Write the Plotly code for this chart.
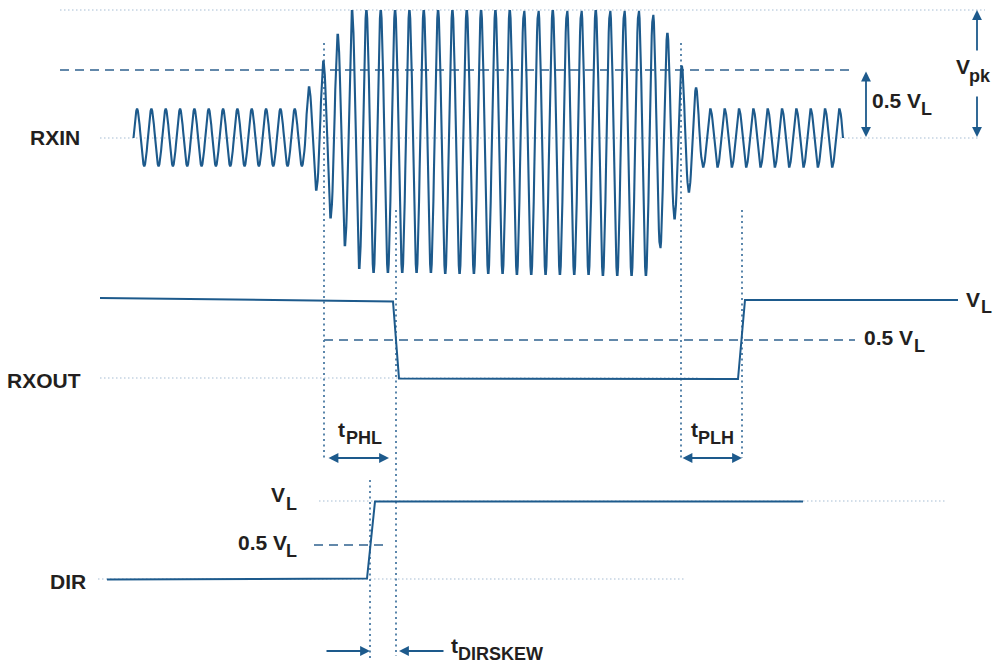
import numpy as np
import plotly.graph_objects as go

# ---------------- data (diagram units: px-like, y grows downward) ----------------
RXIN_BASE = 138
WAVE_START, WAVE_END = 133.5, 843.0
# amplitude of each positive half-cycle (peaks), left to right
PEAK_AMPS = [29] * 12 + [51, 77, 104, 128] + [128] * 20 + [124, 105, 72, 50] + [29] * 10
# amplitude of each negative half-cycle (troughs), left to right
TROUGH_AMPS = ([28] * 12 + [52, 80, 108, 131] +
               [135, 135, 135, 135, 135, 136, 136, 136, 136, 136,
                137, 137, 137, 137, 137, 137, 138, 138, 138, 138] +
               [111, 81, 54] + [29] * 10)

RXOUT_X = [100, 393, 399, 738, 745, 958]
RXOUT_Y = [298, 301.5, 378.5, 379, 300, 300]

DIR_X = [107, 367, 375, 803]
DIR_Y = [579.5, 578.5, 501.5, 501.5]

# vertical timing markers: x, y_top, y_bottom
VMARK_X = [324, 396, 681, 742, 370]
VMARK_Y0 = [43, 210, 43, 210, 480]
VMARK_Y1 = [460, 656, 458, 458, 660]

# horizontal reference levels: y, x_start, x_end, style
HREF_Y = [10, 70, 138, 340, 378, 501, 545, 579]
HREF_X0 = [60, 60, 100, 324, 100, 319, 314, 98]
HREF_X1 = [985, 855, 978, 855, 700, 945, 383, 685]
HREF_KIND = ["dot", "dash", "dot", "dash", "dot", "dot", "dash", "dot"]

# arrows: x0, y0, x1, y1 (head at x1,y1), both-ended?
ARROWS = [
    (977, 52, 977, 10, False),
    (977, 95, 977, 137, False),
    (866, 70, 866, 137, True),
    (327, 458, 389, 458, True),
    (681, 458, 742, 458, True),
    (325, 651, 370, 651, False),
    (445, 651, 399, 651, False),
]

# text labels: text, x, y, size, anchor
LABELS = [
    ("RXIN", 82, 137, 21, "right"),
    ("RXOUT", 83, 380, 21, "right"),
    ("DIR", 88, 581, 21, "right"),
    ("0.5 V", 870, 100.5, 21, "left"), ("L", 919, 108.5, 18, "left"),
    ("V", 954, 66.5, 21, "left"), ("pk", 967, 76, 18, "left"),
    ("V", 964, 299.5, 21, "left"), ("L", 979, 307, 18, "left"),
    ("0.5 V", 862, 337.5, 21, "left"), ("L", 912, 346, 18, "left"),
    ("t", 336, 429, 21, "left"), ("PHL", 344, 437.5, 18, "left"),
    ("t", 689, 429, 21, "left"), ("PLH", 696, 437.5, 18, "left"),
    ("V", 269, 494.5, 21, "left"), ("L", 284, 504, 18, "left"),
    ("0.5 V", 236, 542.5, 21, "left"), ("L", 284, 550.5, 18, "left"),
    ("t", 449, 645, 21, "left"), ("DIRSKEW", 456, 653.5, 18, "left"),
]

# ---------------- styling ----------------
LINE = "#1d5a8c"
DASH_C = "#2f628f"
VDOT_C = "#4a7aa3"
HDOT_C = "#a6bdd3"
TEXT_C = "#231f20"
FONT = "Liberation Sans, Arial, sans-serif"

# ---------------- build waveform from amplitude lists ----------------
n_half = len(PEAK_AMPS) + len(TROUGH_AMPS)
half = (WAVE_END - WAVE_START) / n_half
wx, wy = [], []
for k in range(n_half):
    amp = PEAK_AMPS[k // 2] if k % 2 == 0 else TROUGH_AMPS[k // 2]
    sgn = 1 if k % 2 == 0 else -1
    t = np.linspace(0, 1, 14)
    xs = WAVE_START + (k + t) * half
    ys = RXIN_BASE - sgn * amp * np.sin(np.pi * t)
    if k > 0:
        xs, ys = xs[1:], ys[1:]
    wx.extend(xs.tolist())
    wy.extend(ys.tolist())

fig = go.Figure()

shapes = []
for y, x0, x1, kind in zip(HREF_Y, HREF_X0, HREF_X1, HREF_KIND):
    if kind == "dot":
        ln = dict(color=HDOT_C, width=1.2, dash="1.5px,2.5px")
    else:
        ln = dict(color=DASH_C, width=1.6, dash="9px,6px")
    shapes.append(dict(type="line", xref="x", yref="y", x0=x0, x1=x1, y0=y, y1=y,
                       line=ln, layer="below"))
for x, y0, y1 in zip(VMARK_X, VMARK_Y0, VMARK_Y1):
    shapes.append(dict(type="line", xref="x", yref="y", x0=x, x1=x, y0=y0, y1=y1,
                       line=dict(color=VDOT_C, width=1.8, dash="2px,3.5px"), layer="below"))

fig.add_trace(go.Scatter(x=wx, y=wy, mode="lines", line=dict(color=LINE, width=2.1),
                         hoverinfo="skip", showlegend=False))
fig.add_trace(go.Scatter(x=RXOUT_X, y=RXOUT_Y, mode="lines", line=dict(color=LINE, width=2),
                         hoverinfo="skip", showlegend=False))
fig.add_trace(go.Scatter(x=DIR_X, y=DIR_Y, mode="lines", line=dict(color=LINE, width=2),
                         hoverinfo="skip", showlegend=False))

annotations = []
for x0, y0, x1, y1, both in ARROWS:
    annotations.append(dict(x=x1, y=y1, ax=x0, ay=y0, xref="x", yref="y", axref="x", ayref="y",
                            text="", showarrow=True, arrowhead=2, arrowsize=1.1, arrowwidth=1.8,
                            arrowcolor=LINE, arrowside="end+start" if both else "end",
                            standoff=0, startstandoff=0))
for txt, x, y, size, anc in LABELS:
    annotations.append(dict(x=x, y=y, xref="x", yref="y", text="<b>%s</b>" % txt, showarrow=False,
                            xanchor=anc, yanchor="middle",
                            font=dict(family=FONT, size=size, color=TEXT_C)))

fig.update_layout(
    width=993, height=666,
    margin=dict(l=0, r=0, t=0, b=0),
    paper_bgcolor="white", plot_bgcolor="white",
    xaxis=dict(range=[0, 993], visible=False, fixedrange=True),
    yaxis=dict(range=[666, 0], visible=False, fixedrange=True),
    shapes=shapes, annotations=annotations, showlegend=False,
)

fig.write_html("out.html", config={"displayModeBar": False},
               post_script="document.body.style.margin='0px';document.body.style.overflow='hidden';")
